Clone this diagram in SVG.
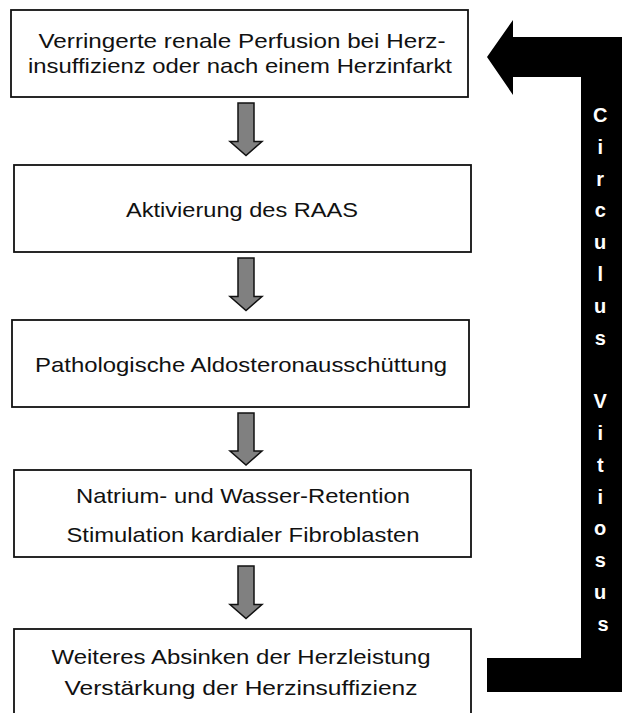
<svg xmlns="http://www.w3.org/2000/svg" width="622" height="713" viewBox="0 0 622 713">
<style>
.box{fill:#fff;stroke:#111;stroke-width:1.8}
.t{font-family:"Liberation Sans",Arial,sans-serif;font-size:21px;fill:#111;text-anchor:middle}
.arr{fill:#808080;stroke:#111;stroke-width:1.5;stroke-linejoin:miter}
.v{font-family:"Liberation Sans",Arial,sans-serif;font-size:20px;font-weight:bold;fill:#fff;text-anchor:middle}
</style>
<rect width="622" height="713" fill="#fff"/>
<g id="n1">
<rect class="box" x="11" y="10" width="457" height="87"/>
<text class="t" x="242" y="48.3" textLength="407" lengthAdjust="spacingAndGlyphs">Verringerte renale Perfusion bei Herz-</text>
<text class="t" x="240" y="72.7" textLength="424" lengthAdjust="spacingAndGlyphs">insuffizienz oder nach einem Herzinfarkt</text>
</g>
<g id="n2">
<rect class="box" x="14" y="165" width="457" height="87"/>
<text class="t" x="242" y="216.5" textLength="232" lengthAdjust="spacingAndGlyphs">Aktivierung des RAAS</text>
</g>
<g id="n3">
<rect class="box" x="12" y="320" width="457" height="87"/>
<text class="t" x="241" y="371.5" textLength="412" lengthAdjust="spacingAndGlyphs">Pathologische Aldosteronausschüttung</text>
</g>
<g id="n4">
<rect class="box" x="14" y="470" width="457" height="87"/>
<text class="t" x="243" y="502.7" textLength="334" lengthAdjust="spacingAndGlyphs">Natrium- und Wasser-Retention</text>
<text class="t" x="243" y="541.7" textLength="353" lengthAdjust="spacingAndGlyphs">Stimulation kardialer Fibroblasten</text>
</g>
<g id="n5">
<rect class="box" x="14" y="629" width="457" height="100"/>
<text class="t" x="241" y="664" textLength="379" lengthAdjust="spacingAndGlyphs">Weiteres Absinken der Herzleistung</text>
<text class="t" x="241" y="695" textLength="353" lengthAdjust="spacingAndGlyphs">Verstärkung der Herzinsuffizienz</text>
</g>
<g id="connectors">
<path class="arr" d="M238,103 H254 V141.5 H262 L246,155.5 L230,141.5 H238 Z"/>
<path class="arr" d="M238,258 H254 V296.5 H262 L246,310.5 L230,296.5 H238 Z"/>
<path class="arr" d="M238,413 H254 V451 H262 L246,465 L230,451 H238 Z"/>
<path class="arr" d="M238,566 H254 V604.5 H262 L246,618.5 L230,604.5 H238 Z"/>
</g>
<g id="feedback">
<path d="M487,57 L513,20 L513,37 L622,37 L622,692 L487,692 L487,658 L581,658 L581,77 L513,77 L513,95 Z" fill="#000"/>
<text class="v" x="603">
<tspan x="603" y="122">C</tspan>
<tspan x="603" y="153.8">i</tspan>
<tspan x="603" y="185.6">r</tspan>
<tspan x="603" y="217.4">c</tspan>
<tspan x="603" y="249.2">u</tspan>
<tspan x="603" y="281">l</tspan>
<tspan x="603" y="312.8">u</tspan>
<tspan x="603" y="344.6">s</tspan>
<tspan x="603" y="408.2">V</tspan>
<tspan x="603" y="440">i</tspan>
<tspan x="603" y="471.8">t</tspan>
<tspan x="603" y="503.6">i</tspan>
<tspan x="603" y="535.4">o</tspan>
<tspan x="603" y="567.2">s</tspan>
<tspan x="603" y="599">u</tspan>
<tspan x="603" y="630.8">s</tspan>
</text>
</g>
</svg>
